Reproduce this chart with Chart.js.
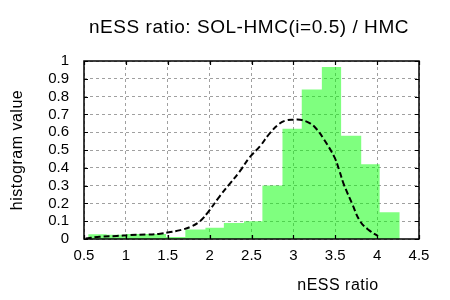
<!DOCTYPE html>
<html>
<head>
<meta charset="utf-8">
<script src="https://cdn.jsdelivr.net/npm/chart.js@4/dist/chart.umd.min.js"></script>
<style>
  html, body { margin: 0; padding: 0; background: #fff; }
  #wrap { width: 450px; height: 300px; }
</style>
</head>
<body>
<div id="wrap"><canvas id="histChart"></canvas></div>
<script>
// histogram bins (left edges + final right edge) and heights
const binEdges = [0.55, 0.77, 1.0, 1.24, 1.48, 1.71, 1.95, 2.17, 2.41, 2.63, 2.87, 3.1, 3.34, 3.57, 3.81, 4.03, 4.27];
const binHeights = [0.026, 0.024, 0.028, 0.028, 0.011, 0.054, 0.063, 0.09, 0.10, 0.30, 0.62, 0.84, 0.966, 0.58, 0.42, 0.15];

// dashed density curve
const curveX = [0.52, 0.69, 0.89, 1.05, 1.25, 1.41, 1.53, 1.65, 1.77, 1.885, 1.98, 2.12, 2.24, 2.36, 2.48, 2.6, 2.72, 2.84, 2.92, 3.0, 3.08, 3.2, 3.28, 3.37, 3.49, 3.545, 3.6, 3.7, 3.8, 3.91, 4.01];
const curveY = [0.003, 0.013, 0.017, 0.022, 0.025, 0.03, 0.039, 0.05, 0.068, 0.1, 0.15, 0.24, 0.31, 0.38, 0.46, 0.52, 0.595, 0.65, 0.667, 0.67, 0.67, 0.65, 0.616, 0.556, 0.46, 0.39, 0.31, 0.20, 0.097, 0.047, 0.017];

const xTicks = [0.5, 1, 1.5, 2, 2.5, 3, 3.5, 4, 4.5];
const yTicks = [0, 0.1, 0.2, 0.3, 0.4, 0.5, 0.6, 0.7, 0.8, 0.9, 1];

const titleText = 'nESS ratio: SOL-HMC(i=0.5) / HMC';
const xLabel = 'nESS ratio';
const yLabel = 'histogram value';

const FONT = '"Liberation Sans", Arial, sans-serif';

// stepped points: each height applies from its left edge to the next edge
const histPoints = binHeights.map((h, i) => ({ x: binEdges[i], y: h }));
histPoints.push({ x: binEdges[binEdges.length - 1], y: 0 });

const curvePoints = curveX.map((x, i) => ({ x: x, y: curveY[i] }));

// border, inward tick marks and texts
const framePlugin = {
  id: 'frame',
  afterDraw(chart) {
    const ctx = chart.ctx;
    const a = chart.chartArea;
    const xs = chart.scales.x, ys = chart.scales.y;
    ctx.save();
    ctx.strokeStyle = '#000';
    ctx.lineWidth = 1.2;
    ctx.beginPath();
    xTicks.forEach(v => {
      const px = Math.round(xs.getPixelForValue(v)) + 0.5;
      ctx.moveTo(px, a.bottom); ctx.lineTo(px, a.bottom - 4);
      ctx.moveTo(px, a.top); ctx.lineTo(px, a.top + 4);
    });
    yTicks.forEach(v => {
      const py = Math.round(ys.getPixelForValue(v)) + 0.5;
      ctx.moveTo(a.left, py); ctx.lineTo(a.left + 4, py);
      ctx.moveTo(a.right, py); ctx.lineTo(a.right - 4, py);
    });
    ctx.stroke();
    ctx.lineWidth = 1.5;
    ctx.strokeRect(a.left, a.top, a.right - a.left, a.bottom - a.top);

    ctx.fillStyle = '#000';
    ctx.textAlign = 'center';
    ctx.textBaseline = 'alphabetic';
    ctx.font = '19px ' + FONT;
    ctx.letterSpacing = '0.55px';
    ctx.fillText(titleText, 249, 33);
    ctx.font = '16px ' + FONT;
    ctx.letterSpacing = '0.5px';
    ctx.fillText(xLabel, 338, 290);
    ctx.translate(22, 150);
    ctx.rotate(-Math.PI / 2);
    ctx.fillText(yLabel, 0, 0);
    ctx.restore();
  }
};

const ctx = document.getElementById('histChart').getContext('2d');
const histChart = new Chart(ctx, {
  type: 'line',
  data: {
    datasets: [
      {
        label: 'density',
        data: curvePoints,
        borderColor: '#000',
        borderWidth: 2,
        borderDash: [6, 3],
        pointRadius: 0,
        fill: false,
        tension: 0.4,
        order: 0
      },
      {
        label: 'histogram',
        data: histPoints,
        stepped: 'before',
        borderWidth: 0,
        borderColor: 'rgba(0,0,0,0)',
        backgroundColor: 'rgba(0, 255, 0, 0.5)',
        pointRadius: 0,
        fill: 'origin',
        order: 1
      }
    ]
  },
  options: {
    responsive: true,
    maintainAspectRatio: false,
    animation: false,
    layout: { padding: { left: 0, right: 31, top: 61, bottom: 31 } },
    plugins: {
      legend: { display: false },
      title: { display: false },
      tooltip: { enabled: false }
    },
    scales: {
      x: {
        type: 'linear',
        min: 0.5,
        max: 4.5,
        afterBuildTicks: s => { s.ticks = xTicks.map(v => ({ value: v })); },
        afterFit: s => { s.height = 30; },
        border: { display: false, dash: [3, 3] },
        grid: {
          drawTicks: false,
          color: '#a0a0a0',
          lineWidth: 1
        },
        ticks: {
          padding: 8,
          maxRotation: 0,
          autoSkip: false,
          color: '#000',
          font: { family: FONT, size: 15 },
          callback: v => String(+v.toFixed(1))
        }
      },
      y: {
        min: 0,
        max: 1,
        afterBuildTicks: s => { s.ticks = yTicks.map(v => ({ value: v })); },
        afterFit: s => { s.width = 84; },
        border: { display: false, dash: [3, 3] },
        grid: {
          drawTicks: false,
          color: '#a0a0a0',
          lineWidth: 1
        },
        ticks: {
          padding: 15,
          autoSkip: false,
          color: '#000',
          font: { family: FONT, size: 15 },
          callback: v => String(+v.toFixed(1))
        }
      }
    }
  },
  plugins: [framePlugin]
});
</script>
</body>
</html>
